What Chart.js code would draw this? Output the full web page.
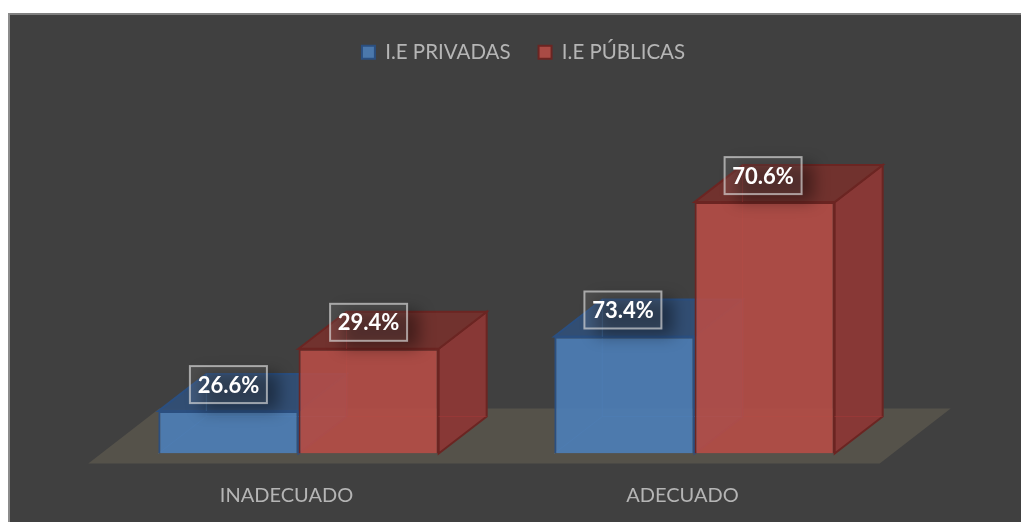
<!DOCTYPE html>
<html>
<head>
<meta charset="utf-8">
<style>html,body{margin:0;padding:0;background:#fff}#w{position:relative;width:1021px;height:522px}canvas{display:block}</style>
<script src="https://cdn.jsdelivr.net/npm/chart.js@4"></script>
</head>
<body>
<div id="w"><canvas id="c" width="1021" height="522"></canvas></div>
<script>
const categories = ['INADECUADO', 'ADECUADO'];
const seriesNames = ['I.E PRIVADAS', 'I.E PÚBLICAS'];
const privadas = [26.6, 73.4];
const publicas = [29.4, 70.6];

const FONT = 'Lato, Carlito, sans-serif';
const DEPTH_X = 48, DEPTH_Y = 37;
const faces = [
  {front:'rgba(77,126,184,0.9)', top:'rgba(50,79,118,0.95)', side:'rgba(72,112,160,0.5)', edge:'#2b4f80', back:'rgba(90,140,205,0.35)'},
  {front:'rgba(182,76,70,0.9)', top:'rgba(116,50,46,0.96)', side:'rgba(138,56,54,0.97)', edge:'#6b2522', back:'rgba(165,55,55,0.5)'}
];

function poly(ctx, pts, fill, stroke, lw) {
  ctx.beginPath();
  pts.forEach((p, i) => i ? ctx.lineTo(p[0], p[1]) : ctx.moveTo(p[0], p[1]));
  ctx.closePath();
  if (fill) { ctx.fillStyle = fill; ctx.fill(); }
  if (stroke) { ctx.strokeStyle = stroke; ctx.lineWidth = lw || 2; ctx.stroke(); }
}

const scene = {
  id: 'scene',
  beforeDraw(chart) {
    const ctx = chart.ctx;
    ctx.save();
    ctx.fillStyle = '#ffffff';
    ctx.fillRect(0, 0, chart.width, chart.height);
    ctx.fillStyle = '#404040';
    ctx.fillRect(8, 13, chart.width - 8, chart.height - 13);
    ctx.fillStyle = '#808080';
    ctx.fillRect(8, 13, chart.width - 8, 2);
    ctx.fillStyle = '#8c8c8c';
    ctx.fillRect(8, 13, 2, chart.height - 13);
    ctx.restore();
  },
  afterLayout(chart) {
    chart.legend.left += 27;
    chart.legend.right += 27;
  },
  beforeDatasetsDraw(chart) {
    const ctx = chart.ctx, a = chart.chartArea, base = a.bottom;
    ctx.save();
    const first = chart.getDatasetMeta(0).data[0], last = chart.getDatasetMeta(1).data[1];
    const xl = first.x - first.width / 2, xr = last.x + last.width / 2;
    poly(ctx, [[xl - 70, base + 10], [xr + 45, base + 10], [xr + 116, base - 45], [xl + 1, base - 45]], '#55524a');
    chart.data.datasets.forEach((ds, di) => {
      const f = faces[di];
      chart.getDatasetMeta(di).data.forEach(bar => {
        const l = bar.x - bar.width / 2, r = bar.x + bar.width / 2, t = bar.y, b = base;
        const dx = DEPTH_X, dy = DEPTH_Y;
        poly(ctx, [[r, t], [r + dx, t - dy], [r + dx, b - dy], [r, b]], f.side, f.edge, 2);
        poly(ctx, [[l, t], [l + dx, t - dy], [r + dx, t - dy], [r, t]], f.top, f.edge, 2);
        ctx.strokeStyle = f.back; ctx.lineWidth = 1;
        ctx.beginPath();
        ctx.moveTo(l, b); ctx.lineTo(l + dx, b - dy); ctx.lineTo(r + dx, b - dy);
        ctx.moveTo(l + dx, b - dy); ctx.lineTo(l + dx, t - dy);
        ctx.stroke();
      });
    });
    ctx.restore();
  },
  afterDatasetsDraw(chart) {
    const ctx = chart.ctx;
    const w = 77, h = 37, off = 26.5;
    chart.data.datasets.forEach((ds, di) => {
      chart.getDatasetMeta(di).data.forEach((bar, i) => {
        const cx = bar.x - (i === 1 ? 1.5 : 0), cy = bar.y - off;
        ctx.save();
        ctx.shadowColor = 'rgba(0,0,0,0.4)';
        ctx.shadowBlur = 16;
        ctx.shadowOffsetX = 3000 + 12;
        ctx.shadowOffsetY = 7;
        ctx.fillStyle = '#000';
        ctx.fillRect(cx - w / 2 - 3000, cy - h / 2, w, h);
        ctx.restore();
        ctx.save();
        ctx.fillStyle = 'rgba(255,255,255,0.07)';
        ctx.fillRect(cx - w / 2, cy - h / 2, w, h);
        ctx.strokeStyle = 'rgba(222,222,222,0.65)';
        ctx.lineWidth = 2;
        ctx.strokeRect(cx - w / 2, cy - h / 2, w, h);
        ctx.fillStyle = '#ffffff';
        ctx.font = 'bold 22px ' + FONT;
        ctx.textAlign = 'center';
        ctx.textBaseline = 'middle';
        ctx.fillText(ds.data[i].toFixed(1) + '%', cx, cy + 1);
        ctx.restore();
      });
    });
  }
};

new Chart(document.getElementById('c'), {
  type: 'bar',
  data: {
    labels: categories,
    datasets: [
      {label: seriesNames[0], data: privadas, yAxisID: 'yPriv', backgroundColor: faces[0].front, borderColor: faces[0].edge, borderWidth: 2},
      {label: seriesNames[1], data: publicas, yAxisID: 'yPub', backgroundColor: faces[1].front, borderColor: faces[1].edge, borderWidth: 2}
    ]
  },
  plugins: [scene],
  options: {
    responsive: false,
    animation: false,
    events: [],
    categoryPercentage: 0.708,
    barPercentage: 1,
    layout: {padding: {left: 100.5, right: 128.5, top: 14, bottom: 0}},
    plugins: {
      tooltip: {enabled: false},
      legend: {
        position: 'top',
        labels: {
          color: '#b5b5b5',
          font: {family: FONT, size: 20.5},
          boxWidth: 13,
          boxHeight: 13,
          padding: 28
        }
      }
    },
    scales: {
      x: {
        grid: {display: false, drawTicks: false},
        border: {display: false},
        afterFit(s) { s.height = 68.5; },
        ticks: {color: '#b5b5b5', font: {family: FONT, size: 20}, padding: 30, labelOffset: -12, maxRotation: 0}
      },
      yPriv: {display: false, min: 0, max: 239},
      yPub: {display: false, min: 0, max: 107}
    }
  }
});
</script>
</body>
</html>
